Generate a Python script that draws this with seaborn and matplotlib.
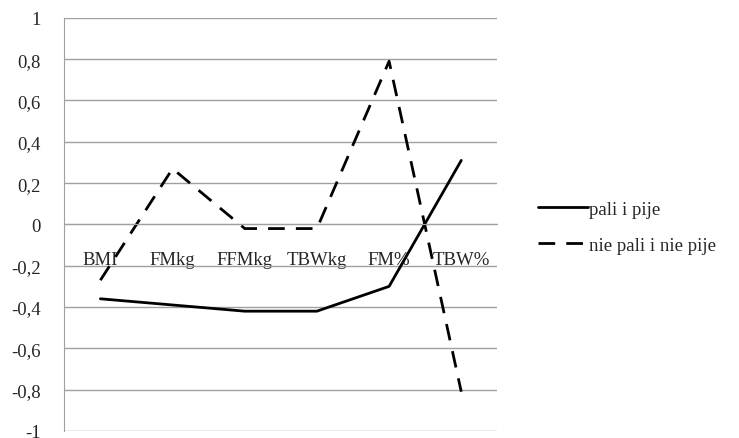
import pandas as pd
import numpy as np
import seaborn as sns
import matplotlib.pyplot as plt
from matplotlib.ticker import FuncFormatter

# Values
categories = ["BMI", "FMkg", "FFMkg", "TBWkg", "FM%", "TBW%"]
pali_i_pije = [-0.36, -0.39, -0.42, -0.42, -0.30, 0.31]
nie_pali_i_nie_pije = [-0.27, 0.27, -0.02, -0.02, 0.79, -0.81]
series_names = ["pali i pije", "nie pali i nie pije"]

df = pd.DataFrame({
    "x": list(range(len(categories))) * 2,
    "value": pali_i_pije + nie_pali_i_nie_pije,
    "grupa": [series_names[0]] * len(categories) + [series_names[1]] * len(categories),
})

sns.set_style("white")
plt.rcParams['font.family'] = ['Liberation Serif', 'DejaVu Serif']

# comma as decimal separator, whole numbers without decimals
def comma_fmt(v, pos):
    if abs(v - round(v)) < 1e-9:
        return str(int(round(v)))
    return f"{v:.1f}".replace(".", ",")

fig = plt.figure(figsize=(7.39, 4.39), dpi=100)
ax = fig.add_axes([0.087, 0.016, 0.586, 0.941])

sns.lineplot(data=df, x="x", y="value", style="grupa", ax=ax,
             color="black", linewidth=2.0,
             dashes={series_names[0]: "", series_names[1]: (6, 4)},
             legend=False)

ax.set_xlim(-0.5, len(categories) - 0.5)
ax.set_ylim(-1, 1)
ax.set_yticks(np.arange(-1, 1.01, 0.2))
ax.yaxis.set_major_formatter(FuncFormatter(comma_fmt))
ax.grid(axis="y", color="#a0a0a0", linewidth=1.0)
ax.set_axisbelow(True)

for s in ["top", "right"]:
    ax.spines[s].set_visible(False)
ax.spines["left"].set_color("#a0a0a0")
ax.spines["bottom"].set_color("#a0a0a0")
ax.spines["bottom"].set_position(("data", 0))

ax.set_xticks(range(len(categories)))
ax.set_xticklabels(categories, fontsize=13.5)
ax.set_xticks(np.arange(0.5, len(categories), 1.0), minor=True)
ax.tick_params(axis="x", which="major", length=0, pad=19)
ax.tick_params(axis="x", which="minor", length=5, color="#a0a0a0", direction="out")
ax.tick_params(axis="y", length=5, color="#a0a0a0", direction="out", labelsize=13.5, pad=12)
ax.set_xlabel("")
ax.set_ylabel("")

handles = [plt.Line2D([], [], color="black", linewidth=2.0),
           plt.Line2D([], [], color="black", linewidth=2.0, dashes=(6, 4))]
fig.legend(handles, series_names, loc="center left", bbox_to_anchor=(0.705, 0.48),
           frameon=False, fontsize=13.5, handlelength=2.7, handletextpad=0.05,
           labelspacing=1.0)

fig.savefig("out.png", dpi=100)
